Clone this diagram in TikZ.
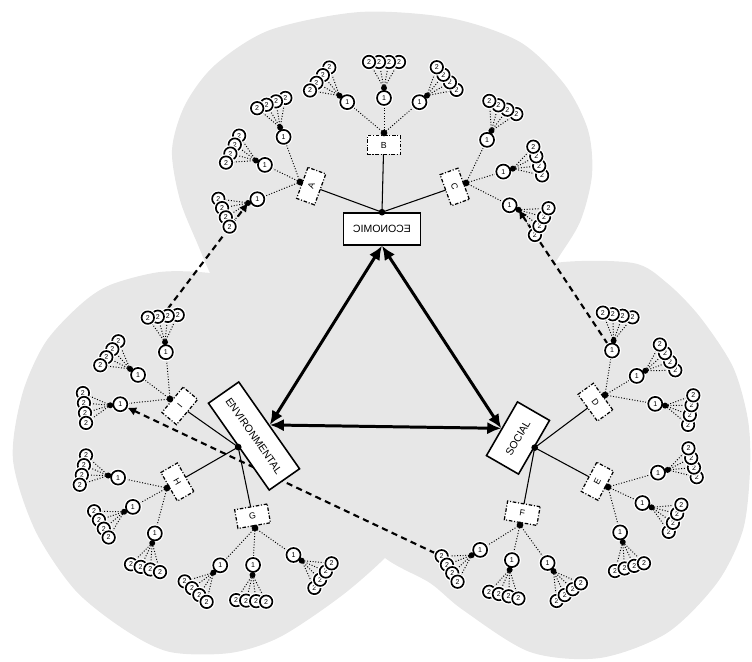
\documentclass[tikz,border=0pt]{standalone}
\usepackage{fontspec}
\setmainfont{Liberation Sans}
\usepackage{graphicx}
\usepackage{tikz}
\usetikzlibrary{arrows.meta,calc}
\pgfdeclarelayer{blob}
\pgfdeclarelayer{back}
\pgfsetlayers{blob,back,main}
\definecolor{lobegray}{RGB}{231,231,231}
\tikzset{
    pillar/.style={draw, fill=white, line width=0.9pt, inner sep=0pt,
    font=\fontsize{6}{7}\selectfont},
    cat/.style={draw, fill=white, line width=0.7pt,
    dash pattern=on 2pt off 1pt on 0.6pt off 1pt,
    minimum width=0.66cm, minimum height=0.38cm, inner sep=0pt,
    font=\fontsize{5}{5}\selectfont},
    sub/.style={circle, draw, fill=white, line width=0.95pt,
    preaction={draw=white, line width=2.4pt},
    minimum size=0.28cm, inner sep=0pt, font=\fontsize{4}{4}\selectfont},
    leaf/.style={sub, minimum size=0.25cm},
    limb/.style={line width=0.6pt},
    twig/.style={line width=0.55pt, densely dotted},
    tri/.style={line width=1.7pt, {Latex[length=8pt,width=7pt]}-{Latex[length=8pt,width=7pt]}},
    link/.style={line width=1.2pt, dash pattern=on 3.5pt off 2.5pt, -{Latex[length=5pt,width=5pt]}}
}

\begin{document}
\begin{tikzpicture}[x=0.02cm, y=0.02cm]
    \useasboundingbox (0,0) rectangle (752,-662);
    \begin{pgfonlayer}{blob}
    \fill[lobegray] plot[smooth cycle] coordinates {(228,-310) (210,-273) (198,-245)
        (180,-200) (172,-150) (185,-105) (215,-65) (270,-30) (360,-12) (450,-18)
        (520,-42) (565,-85) (588,-130) (592,-175) (580,-222) (555,-263) (530,-305)
        (460,-400) (383,-430) (300,-400)};
    \fill[lobegray] plot[smooth cycle] coordinates {(385,-558) (340,-597) (280,-637)
        (230,-653) (170,-652) (125,-630) (75,-590) (35,-530) (13,-460) (22,-395)
        (45,-343) (80,-305) (110,-285) (160,-272) (210,-273) (260,-283) (350,-330)
        (430,-420) (430,-510)};
    \fill[lobegray] plot[smooth cycle] coordinates {(385,-558) (430,-583) (463,-610)
        (530,-652) (600,-658) (667,-633) (717,-583) (743,-530) (750,-470) (748,-420)
        (733,-367) (700,-317) (667,-283) (633,-263) (555,-263) (490,-285) (400,-345)
        (330,-430) (335,-510)};
    \end{pgfonlayer}

    \node[pillar, minimum width=1.54cm, minimum height=0.64cm] (eco) at (382,-229) {\reflectbox{ECONOMIC}};
    \node[pillar, minimum width=2.12cm, minimum height=0.74cm, rotate=-55] (env) at (254,-436) {ENVIRONMENTAL};
    \node[pillar, minimum width=1.24cm, minimum height=0.74cm, rotate=60] (soc) at (518,-438) {SOCIAL};

    \draw[tri] (eco.south) -- (env.north);
    \draw[tri] (eco.south) -- (soc.north);
    \draw[tri] (env.north) -- (soc.north);
    \foreach \hub in {eco.north,env.south,soc.south}{
        \fill (\hub) circle (1.9pt);
    }

    \foreach \l/\m/\hx/\hy/\r/\ta/\da/\tb/\db/\tc/\dc in {
        A/eco.north/300/-182/70/110/48/154/39/202/46,
        B/eco.north/384/-133/0/140/48/90/35/41/47,
        C/eco.north/466/-183/-70/64/48/17/39/-27/49,
        D/soc.south/605/-395/-54/81/45/31/37/-10/51,
        E/soc.south/608/-487/62/16/52/-25/38/-75/47,
        F/soc.south/520/-525/-10/212/47/257/36/306/47,
        G/env.south/255/-528/10/227/51/267/37/325/47,
        H/env.south/167/-488/-60/168/50/209/39/255/47,
        I/env.south/170/-399/50/95/47/143/40/186/50}{
        \coordinate (hub\l) at (\hx,\hy);
        \node[cat, rotate=\r] (box\l) at ($(hub\l)!0.24cm!(\m)$) {\l};
        \begin{pgfonlayer}{back}
        \draw[limb] (\m) -- (hub\l);
        \end{pgfonlayer}
        \fill (hub\l) circle (1.9pt);
        \foreach \t/\d [count=\k] in {\ta/\da,\tb/\db,\tc/\dc}{
            \pgfmathsetmacro\dd{\d+10}
            \pgfmathsetmacro\pp{\t+90}
            \node[sub] (sub\l\k) at ($(hub\l)+(\t:\d)$) {1};
            \coordinate (dot\l\k) at ($(hub\l)+(\t:\dd)$);
            \foreach \s [count=\j] in {-15,-5,5,15}{
                \node[leaf] (leaf\l\k\j) at ($(dot\l\k)+(\t:26)+(\pp:\s)$) {2};
                \begin{pgfonlayer}{back}
                \draw[twig] (dot\l\k) -- (leaf\l\k\j);
                \end{pgfonlayer}
            }
            \begin{pgfonlayer}{back}
            \draw[twig] (hub\l) -- (sub\l\k) -- (dot\l\k);
            \end{pgfonlayer}
            \fill (dot\l\k) circle (1.7pt);
        }
    }

    %\draw[link] (leafI11) -- (dotA3);
    \begin{pgfonlayer}{back}
    \draw[link] (leafI12.north) -- (dotA3);
    \draw[link] (subD1) -- (dotC3);
    \draw[link] (leafF11) -- (subI3);
    \end{pgfonlayer}
\end{tikzpicture}
\end{document}
